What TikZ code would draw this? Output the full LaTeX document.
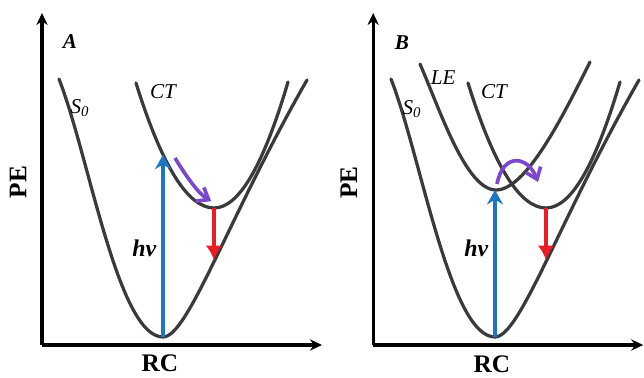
\documentclass[tikz,border=0pt]{standalone}
\usepackage{fontspec}
\setmainfont{Liberation Serif}
\usepackage{xcolor}
\usetikzlibrary{arrows.meta, positioning}
\definecolor{cCurve}{RGB}{58,58,60}
\definecolor{cBlue}{RGB}{30,118,195}
\definecolor{cRed}{RGB}{232,30,36}
\definecolor{cPurple}{RGB}{122,72,205}
\tikzset{
	axis/.style    ={line width=2.4pt, -{Stealth[length=3mm, width=2.8mm]}},
	pes/.style     ={line width=2.3pt, cCurve, line cap=round},
	absorb/.style  ={line width=2.6pt, cBlue, -{Stealth[length=3.6mm, width=4mm, inset=1.2mm]}},
	emit/.style    ={line width=2.6pt, cRed, -{Latex[length=3.6mm, width=4.2mm]}},
	relax/.style   ={line width=2.6pt, cPurple, -{Straight Barb[length=2.6mm, width=4mm]}},
	% labels
	statelbl/.style={font=\fontsize{15}{18}\selectfont\itshape, inner sep=1pt},
	panellbl/.style={font=\fontsize{15}{18}\selectfont\bfseries\itshape, inner sep=1pt},
	axlbl/.style   ={font=\fontsize{18}{21}\selectfont\bfseries, inner sep=1pt},
	photon/.style  ={font=\fontsize{17}{20}\selectfont\bfseries\itshape, inner sep=1pt},
}

\begin{document}
\begin{tikzpicture}
	\useasboundingbox (0,0) rectangle (16.1,9.45);
	% ===== panel A =====
	\begin{scope}
		% axes
		\coordinate (oA) at (1.05,0.825);
		\coordinate (yA) at (1.05,9.125);
		\coordinate (xA) at (8.05,0.825);
		\draw[axis] (oA) -- (yA);
		\draw[axis] (oA) -- (xA);
		\node[axlbl, rotate=90] (peA) at (0.45,4.9) {PE};
		\node[axlbl] (rcA) at (4.0,0.36) {RC};
		\node[panellbl] (tagA) at (1.75,8.4) {A};
		% ground state S0
		\draw[pes] (1.475,7.475) .. controls (2.225,5.56) and (2.95,1.025) .. (4.075,1.025)
			.. controls (4.70,1.025) and (5.675,3.95) .. (7.675,7.45);
		\coordinate (s0minA) at (4.075,1.025);
		\node[statelbl] (s0A) at (2.0,6.75) {S\textsubscript{0}};
		% CT state
		\draw[pes] (3.40,7.375) .. controls (4.05,5.29) and (4.70,4.25) .. (5.35,4.25)
			.. controls (5.97,4.25) and (6.58,5.30) .. (7.20,7.40);
		\coordinate (ctminA) at (5.35,4.25);
		\node[statelbl] (ctA) at (4.075,7.15) {CT};
		% excitation, relaxation, emission
		\coordinate (hvtopA) at (4.075,5.58);
		\draw[absorb] (s0minA) -- (hvtopA);
		\node[photon, anchor=east] (hvA) at (3.95,3.25) {hν};
		\draw[relax] (4.375,5.50) .. controls (4.65,5.05) and (4.95,4.62) .. (5.28,4.42);
		\coordinate (emA) at (5.35,2.95);
		\draw[emit] (ctminA) -- (emA);
	\end{scope}
	% ===== panel B =====
	\begin{scope}[xshift=8.3cm]
		% axes
		\coordinate (oB) at (1.03,0.825);
		\coordinate (yB) at (1.03,9.125);
		\coordinate (xB) at (7.78,0.825);
		\draw[axis] (oB) -- (yB);
		\draw[axis] (oB) -- (xB);
		\node[axlbl, rotate=90] (peB) at (0.42,4.88) {PE};
		\node[axlbl] (rcB) at (4.0,0.34) {RC};
		\node[panellbl] (tagB) at (1.75,8.38) {B};
		% ground state S0
		\draw[pes] (1.475,7.475) .. controls (2.225,5.56) and (2.95,1.025) .. (4.075,1.025)
			.. controls (4.70,1.025) and (5.675,3.95) .. (7.675,7.45);
		\coordinate (s0minB) at (4.075,1.025);
		\node[statelbl] (s0B) at (2.0,6.72) {S\textsubscript{0}};
		% LE state
		\draw[pes] (2.20,7.85) .. controls (2.70,6.70) and (3.35,4.70) .. (4.10,4.70)
			.. controls (4.85,4.70) and (5.75,6.50) .. (6.45,7.90);
		\coordinate (leminB) at (4.075,4.70);
		\node[statelbl] (leB) at (2.78,7.5) {LE};
		% CT state
		\draw[pes] (3.40,7.375) .. controls (4.05,5.29) and (4.70,4.25) .. (5.35,4.25)
			.. controls (5.97,4.25) and (6.58,5.30) .. (7.20,7.40);
		\coordinate (ctminB) at (5.35,4.25);
		\node[statelbl] (ctB) at (4.05,7.15) {CT};
		% excitation, LE -> CT crossing, emission
		\draw[absorb] (s0minB) -- (leminB);
		\node[photon, anchor=east] (hvB) at (3.95,3.25) {hν};
		\draw[relax] (4.125,4.85) .. controls (4.28,5.65) and (4.90,5.55) .. (5.15,4.90);
		\coordinate (emB) at (5.35,2.95);
		\draw[emit] (ctminB) -- (emB);
	\end{scope}
\end{tikzpicture}
\end{document}
